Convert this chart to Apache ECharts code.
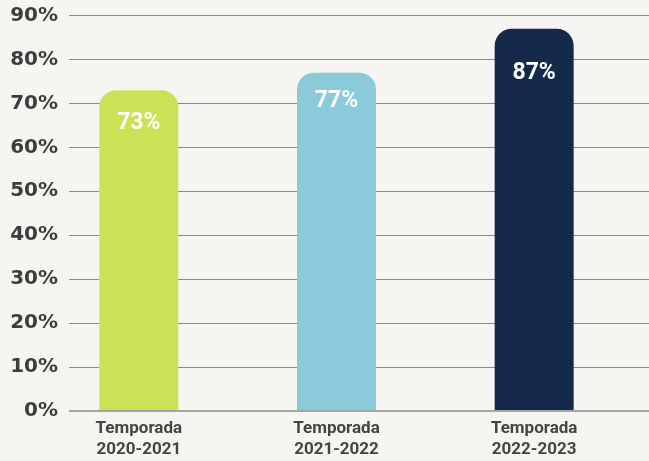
<!DOCTYPE html>
<html>
<head>
<meta charset="utf-8">
<script src="https://cdn.jsdelivr.net/npm/echarts@6/dist/echarts.min.js"></script>
<style>
  html, body { margin: 0; padding: 0; background: #f6f5f1; }
  #chart { width: 649px; height: 461px; }
</style>
</head>
<body>
<div id="chart"></div>
<script>
// datos
const categories = ['Temporada\n2020-2021', 'Temporada\n2021-2022', 'Temporada\n2022-2023']
const values = [73, 77, 87]
const yTicks = [0, 10, 20, 30, 40, 50, 60, 70, 80, 90]

// estilo por barra
const barColors = ['#cde157', '#8acadb', '#152a4b']
const labelGaps = [22, 17, 33]

const chart = echarts.init(document.getElementById('chart'))
chart.setOption({
  backgroundColor: '#f6f5f1',
  grid: [
    // rejilla del eje Y
    { left: 69, right: 0, top: 15.5, bottom: 50 },
    // rejilla de las barras
    { left: 40, width: 593, top: 15.5, bottom: 50 }
  ],
  xAxis: [
    { type: 'category', gridIndex: 0, data: categories, show: false },
    {
      type: 'category',
      gridIndex: 1,
      data: categories,
      axisLine: { show: false },
      axisTick: { show: false },
      axisLabel: {
        color: '#444',
        fontFamily: 'Roboto',
        fontWeight: 'bold',
        fontSize: 17,
        lineHeight: 21,
        margin: 7
      }
    }
  ],
  yAxis: [
    {
      type: 'value',
      gridIndex: 0,
      min: yTicks[0],
      max: yTicks[yTicks.length - 1],
      interval: 10,
      axisLine: { show: false },
      axisTick: { show: false },
      splitLine: { lineStyle: { color: '#8c8884', width: 1 } },
      axisLabel: {
        formatter: '{value}%',
        color: '#3d3d3d',
        fontFamily: 'DejaVu Sans',
        fontWeight: 'bold',
        fontSize: 20,
        margin: 11
      }
    },
    {
      type: 'value',
      gridIndex: 1,
      min: yTicks[0],
      max: yTicks[yTicks.length - 1],
      interval: 10,
      show: false
    }
  ],
  series: [
    {
      // línea base del eje
      type: 'line',
      xAxisIndex: 0,
      yAxisIndex: 0,
      data: [],
      markLine: {
        silent: true,
        symbol: 'none',
        label: { show: false },
        lineStyle: { color: '#a8a49e', width: 2, type: 'solid' },
        data: [{ yAxis: 0 }]
      }
    },
    {
      type: 'bar',
      xAxisIndex: 1,
      yAxisIndex: 1,
      barWidth: 79,
      data: values.map((v, i) => ({
        value: v,
        itemStyle: { color: barColors[i] },
        label: { distance: labelGaps[i] }
      })),
      itemStyle: { borderRadius: [17, 17, 0, 0] },
      label: {
        show: true,
        position: 'insideTop',
        formatter: '{c}%',
        color: '#fff',
        fontFamily: 'Roboto',
        fontWeight: 'bold',
        fontSize: 23
      }
    }
  ]
})
</script>
</body>
</html>
